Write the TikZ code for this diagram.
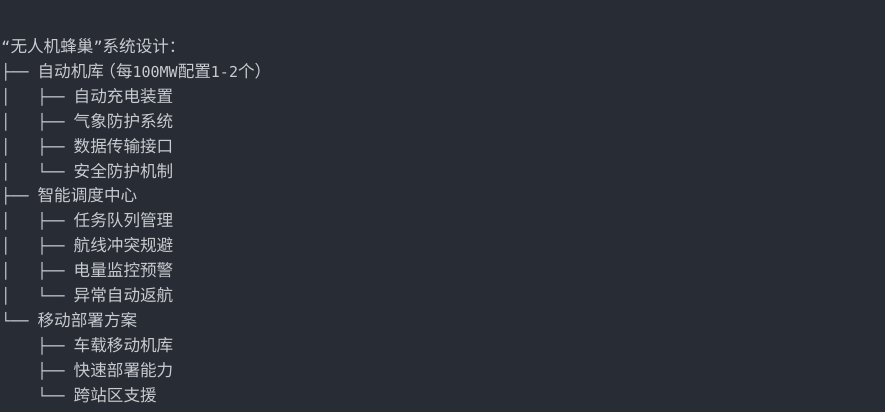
\documentclass[tikz,border=0pt]{standalone}
\usepackage{fontspec}
\newfontfamily\cjkfont{Noto Sans CJK SC}
\newfontfamily\treemono{DejaVu Sans Mono}
\definecolor{bg}{HTML}{282C34}
\definecolor{fg}{HTML}{C8CBD0}
\newcommand\zhs[1]{{\cjkfont\fontsize{16.6}{20}\selectfont #1}}
\newcommand\mns[1]{{\treemono\fontsize{15}{20}\selectfont #1}}
\tikzset{
  ln/.style={anchor=base west, inner sep=0pt, outer sep=0pt, text=fg},
}
\begin{document}
\begin{tikzpicture}[x=1pt,y=-1pt]
\fill[bg] (0,0) rectangle (885,412);
\useasboundingbox (0,0) rectangle (885,412);
% title
\node[ln] (title) at (1.5,52.3) {\mns{“}\zhs{无人机蜂巢}\mns{”}\zhs{系统设计：}};
% group 1
\node[ln] (p1) at (1.5,77.2) {\mns{├──}};
\node[ln] (a) at (37.6,77.2) {\zhs{自动机库\makebox[12pt][r]{（}每}\mns{100MW}\zhs{配置}\mns{1-2}\zhs{个\makebox[8.5pt][l]{）}}};
\node[ln] (p2) at (1.5,102.2) {\mns{│\ \ \ ├──}};
\node[ln] (a1) at (73.7,102.2) {\zhs{自动充电装置}};
\node[ln] (p3) at (1.5,127.1) {\mns{│\ \ \ ├──}};
\node[ln] (a2) at (73.7,127.1) {\zhs{气象防护系统}};
\node[ln] (p4) at (1.5,152.0) {\mns{│\ \ \ ├──}};
\node[ln] (a3) at (73.7,152.0) {\zhs{数据传输接口}};
\node[ln] (p5) at (1.5,177.0) {\mns{│\ \ \ └──}};
\node[ln] (a4) at (73.7,177.0) {\zhs{安全防护机制}};
% group 2
\node[ln] (p6) at (1.5,201.9) {\mns{├──}};
\node[ln] (b) at (37.6,201.9) {\zhs{智能调度中心}};
\node[ln] (p7) at (1.5,226.8) {\mns{│\ \ \ ├──}};
\node[ln] (b1) at (73.7,226.8) {\zhs{任务队列管理}};
\node[ln] (p8) at (1.5,251.7) {\mns{│\ \ \ ├──}};
\node[ln] (b2) at (73.7,251.7) {\zhs{航线冲突规避}};
\node[ln] (p9) at (1.5,276.7) {\mns{│\ \ \ ├──}};
\node[ln] (b3) at (73.7,276.7) {\zhs{电量监控预警}};
\node[ln] (p10) at (1.5,301.6) {\mns{│\ \ \ └──}};
\node[ln] (b4) at (73.7,301.6) {\zhs{异常自动返航}};
% group 3
\node[ln] (p11) at (1.5,326.5) {\mns{└──}};
\node[ln] (c) at (37.6,326.5) {\zhs{移动部署方案}};
\node[ln] (p12) at (37.6,351.5) {\mns{├──}};
\node[ln] (c1) at (73.7,351.5) {\zhs{车载移动机库}};
\node[ln] (p13) at (37.6,376.4) {\mns{├──}};
\node[ln] (c2) at (73.7,376.4) {\zhs{快速部署能力}};
\node[ln] (p14) at (37.6,401.3) {\mns{└──}};
\node[ln] (c3) at (73.7,401.3) {\zhs{跨站区支援}};
\end{tikzpicture}
\end{document}
